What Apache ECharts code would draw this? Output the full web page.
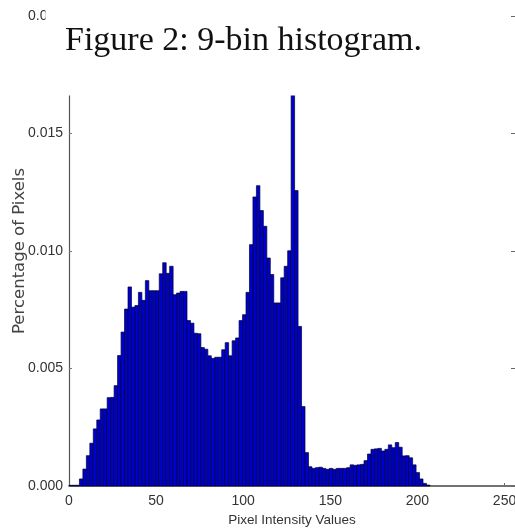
<!DOCTYPE html>
<html>
<head>
<meta charset="utf-8">
<script src="https://cdn.jsdelivr.net/npm/echarts@6/dist/echarts.min.js"></script>
<style>
html,body{margin:0;padding:0;background:#fff;overflow:hidden;}
#chart{width:515px;height:531px;}
</style>
</head>
<body>
<div id="chart"></div>
<script>
// ---- data ----
const titleText = "Figure 2: 9-bin histogram.";
const xAxisTitle = "Pixel Intensity Values";
const yAxisTitle = "Percentage of Pixels";
const xRange = [0, 256];
const yRange = [0, 0.020];
const xTickStep = 50;
const yTickStep = 0.005;
const binCount = 128;          // bins spanning pixel values 0..255
const binRangeMax = 255;
// fraction of pixels in each bin (bin 0 .. bin 103)
const binValues = [
  0.00003, 0.00003, 0.00003, 0.00030, 0.00072, 0.00129, 0.00182, 0.00243, 0.00281, 0.00328,
  0.00328, 0.00376, 0.00377, 0.00427, 0.00555, 0.00655, 0.00753, 0.00847, 0.00761, 0.00768,
  0.00824, 0.00790, 0.00874, 0.00831, 0.00831, 0.00831, 0.00903, 0.00950, 0.00905, 0.00935,
  0.00814, 0.00821, 0.00828, 0.00828, 0.00704, 0.00693, 0.00650, 0.00648, 0.00589, 0.00582,
  0.00554, 0.00543, 0.00548, 0.00548, 0.00580, 0.00610, 0.00554, 0.00618, 0.00630, 0.00704,
  0.00729, 0.00824, 0.01027, 0.01230, 0.01278, 0.01172, 0.01105, 0.00970, 0.00900, 0.00779,
  0.00779, 0.00886, 0.00935, 0.01001, 0.01850, 0.01257, 0.00679, 0.00338, 0.00142, 0.00082,
  0.00075, 0.00078, 0.00080, 0.00075, 0.00071, 0.00075, 0.00071, 0.00075, 0.00075, 0.00075,
  0.00078, 0.00090, 0.00088, 0.00090, 0.00092, 0.00108, 0.00136, 0.00156, 0.00158, 0.00160,
  0.00149, 0.00156, 0.00175, 0.00163, 0.00185, 0.00165, 0.00128, 0.00129, 0.00120, 0.00090,
  0.00057, 0.00030, 0.00011, 0.00004
];

const binWidth = binRangeMax / binCount;
const seriesData = binValues.map((v, i) => [i * binWidth, v]);

const sans = "'Liberation Sans', 'DejaVu Sans', sans-serif";

const chart = echarts.init(document.getElementById('chart'), null, {renderer: 'canvas', devicePixelRatio: 1});
chart.setOption({
  animation: false,
  backgroundColor: '#ffffff',
  grid: {left: 69, right: 0, top: 16, bottom: 45, containLabel: false, outerBoundsMode: 'none'},
  xAxis: {
    type: 'value', min: xRange[0], max: xRange[1], interval: xTickStep,
    name: xAxisTitle, nameLocation: 'middle', nameGap: 27, nameMoveOverlap: false,
    nameTextStyle: {fontFamily: sans, fontSize: 13.5, color: '#333'},
    axisLine: {show: true, lineStyle: {color: '#444', width: 1.5}},
    axisTick: {show: true, inside: true, length: 3, lineStyle: {color: '#666'}},
    axisLabel: {fontFamily: sans, fontSize: 14, color: '#333', margin: 8, showMaxLabel: false},
    splitLine: {show: false}
  },
  yAxis: [{
    type: 'value', min: yRange[0], max: yRange[1], interval: yTickStep,
    name: yAxisTitle, nameLocation: 'middle', nameGap: 41, nameRotate: 90, nameMoveOverlap: false,
    nameTextStyle: {fontFamily: "'DejaVu Sans', sans-serif", fontSize: 16.5, color: '#444'},
    axisLine: {show: true, lineStyle: {color: '#555', width: 1.2}},
    axisTick: {show: true, inside: true, length: 3, lineStyle: {color: '#777'}},
    axisLabel: {fontFamily: sans, fontSize: 14, color: '#333', margin: 6,
      formatter: v => v.toFixed(3)},
    splitLine: {show: false}
  }, {
    type: 'value', position: 'right', min: yRange[0], max: yRange[1], interval: yTickStep,
    axisLine: {show: false},
    axisTick: {show: true, inside: true, length: 4, lineStyle: {color: '#666'}},
    axisLabel: {show: false},
    splitLine: {show: false}
  }],
  series: [{
    type: 'custom',
    data: seriesData,
    renderItem: function (params, api) {
      const x0 = api.value(0);
      const v = api.value(1);
      const p0 = api.coord([x0, v]);
      const p1 = api.coord([x0 + binWidth, 0]);
      const rect = echarts.graphic.clipRectByRect(
        {x: p0[0], y: p0[1], width: p1[0] - p0[0], height: p1[1] - p0[1]},
        {x: params.coordSys.x, y: params.coordSys.y, width: params.coordSys.width, height: params.coordSys.height}
      );
      if (!rect) return;
      return {
        type: 'rect', shape: rect,
        style: {fill: '#0000cc', stroke: '#000033', lineWidth: 0.7}
      };
    }
  }],
  graphic: [
    {type: 'rect', z: 100, shape: {x: 45.5, y: 0, width: 465.5, height: 95.5}, style: {fill: '#ffffff'}, silent: true},
    {type: 'text', z: 101, left: 65, top: 24,
      style: {text: titleText, fontFamily: "'Liberation Serif', serif", fontSize: 34, fill: '#111'}}
  ]
});
</script>
</body>
</html>
